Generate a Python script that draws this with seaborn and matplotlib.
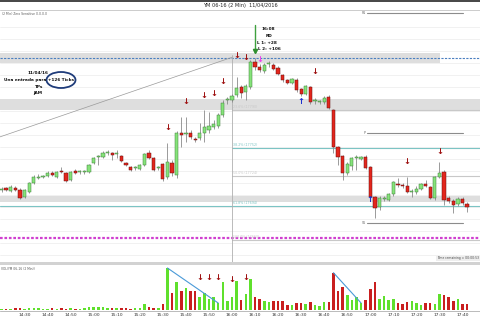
import numpy as np
import pandas as pd
import matplotlib
matplotlib.use("Agg")
import matplotlib.pyplot as plt
import seaborn as sns
from matplotlib.patches import Ellipse, Rectangle

# ---------------- data ----------------
opens = [17710, 17712, 17709, 17712, 17710, 17703, 17708, 17717, 17722, 17723,
         17724, 17727, 17723, 17729, 17727, 17720, 17729, 17728, 17728, 17728,
         17737, 17743, 17743, 17747, 17747, 17746, 17744, 17737, 17733, 17732,
         17731, 17735, 17747, 17742, 17732, 17736, 17723, 17737, 17725, 17767,
         17766, 17767, 17761, 17762, 17767, 17770, 17773, 17774, 17785, 17800,
         17800, 17805, 17813, 17808, 17813, 17838, 17833, 17829, 17836, 17835,
         17832, 17825, 17820, 17817, 17820, 17811, 17806, 17813, 17799, 17798,
         17798, 17803, 17790, 17753, 17744, 17727, 17734, 17742, 17741, 17743,
         17733, 17703, 17693, 17701, 17700, 17706, 17716, 17715, 17714, 17708,
         17708, 17711, 17716, 17713, 17702, 17723, 17728, 17702, 17699, 17696,
         17701, 17696]
closes = [17711, 17710, 17713, 17710, 17702, 17710, 17717, 17723, 17723, 17723,
          17727, 17725, 17728, 17728, 17719, 17728, 17727, 17728, 17728, 17735,
          17742, 17743, 17747, 17747, 17745, 17746, 17739, 17735, 17730, 17732,
          17735, 17746, 17742, 17730, 17732, 17721, 17738, 17727, 17767, 17765,
          17766, 17763, 17760, 17767, 17773, 17774, 17776, 17785, 17797, 17800,
          17804, 17812, 17807, 17814, 17838, 17833, 17830, 17835, 17836, 17831,
          17826, 17820, 17817, 17821, 17810, 17806, 17814, 17798, 17799, 17798,
          17802, 17792, 17753, 17743, 17727, 17736, 17742, 17742, 17743, 17732,
          17703, 17692, 17702, 17702, 17706, 17718, 17715, 17714, 17708, 17708,
          17711, 17716, 17714, 17702, 17723, 17727, 17700, 17699, 17695, 17701,
          17697, 17693]
highs = [17713, 17713, 17715, 17714, 17712, 17711, 17718, 17725, 17726, 17725,
         17729, 17729, 17729, 17733, 17728, 17729, 17731, 17730, 17730, 17736,
         17743, 17745, 17749, 17750, 17748, 17750, 17745, 17738, 17734, 17734,
         17736, 17747, 17750, 17743, 17734, 17737, 17757, 17740, 17769, 17783,
         17783, 17770, 17763, 17777, 17790, 17788, 17780, 17787, 17800, 17803,
         17806, 17823, 17815, 17816, 17840, 17842, 17836, 17837, 17839, 17837,
         17834, 17826, 17821, 17822, 17822, 17812, 17815, 17814, 17802, 17800,
         17804, 17805, 17791, 17754, 17745, 17738, 17743, 17745, 17744, 17745,
         17734, 17704, 17704, 17704, 17707, 17719, 17722, 17717, 17723, 17711,
         17714, 17717, 17720, 17714, 17724, 17738, 17730, 17704, 17701, 17703,
         17703, 17698]
lows = [17708, 17709, 17708, 17709, 17701, 17702, 17707, 17716, 17721, 17722,
        17723, 17724, 17722, 17727, 17718, 17719, 17726, 17726, 17726, 17727,
        17736, 17735, 17742, 17745, 17740, 17742, 17738, 17734, 17729, 17730,
        17730, 17734, 17741, 17729, 17730, 17719, 17721, 17724, 17722, 17753,
        17758, 17761, 17758, 17760, 17758, 17767, 17771, 17772, 17783, 17796,
        17798, 17803, 17802, 17800, 17811, 17830, 17828, 17827, 17833, 17830,
        17825, 17818, 17816, 17816, 17808, 17804, 17805, 17796, 17796, 17796,
        17796, 17791, 17747, 17735, 17720, 17725, 17730, 17730, 17740, 17731,
        17701, 17682, 17690, 17699, 17699, 17704, 17713, 17712, 17707, 17703,
        17706, 17710, 17713, 17701, 17700, 17722, 17695, 17697, 17687, 17694,
        17695, 17688]
volumes = [100, 100, 130, 170, 170, 130, 170, 170, 230, 130,
           130, 170, 130, 170, 130, 170, 100, 130, 170, 270,
           330, 330, 300, 170, 230, 170, 170, 170, 130, 170,
           170, 600, 270, 170, 170, 600, 4200, 1700, 2800, 1900,
           2170, 1900, 1900, 1330, 1670, 1070, 1330, 730, 2830, 900,
           1270, 2900, 1000, 1600, 3100, 1270, 1070, 900, 800, 930,
           930, 900, 500, 500, 670, 670, 600, 830, 470, 400,
           800, 800, 3730, 1930, 2270, 1500, 1000, 1270, 730, 1000,
           2070, 2830, 1070, 1400, 970, 1070, 670, 600, 800, 900,
           670, 470, 670, 670, 600, 1600, 1530, 1330, 930, 1130,
           600, 600]
time_tick_idx = [5, 10, 15, 20, 25, 30, 35, 40, 45, 50, 55, 60, 65, 70, 75, 80, 85, 90, 95, 100]
time_labels = ["14:30", "14:40", "14:50", "15:00", "15:10", "15:20", "15:30", "15:40",
               "15:50", "16:00", "16:10", "16:20", "16:30", "16:40", "16:50", "17:00",
               "17:10", "17:20", "17:30", "17:40"]

# drawn levels / zones / annotations (price units)
zones = [(17837, 17847, 95.1), (17790, 17801, 104), (17698, 17704, 104)]
dashed_blue_level = 17842
magenta_level = 17662
fib_levels = [17790, 17752, 17724, 17694, 17660]
fib_names = ["23.6% (17790)", "38.2% (17752)", "50.0% (17724)", "61.8% (17694)", "100.0% (17660)"]
fib_colors = ["#c8c8c8", "#7cc4c4", "#c8c8c8", "#7cc4c4", "#c8c8c8"]
pivot_levels = [17887, 17767, 17677]
pivot_names = ["R1", "P", "S1"]
trend_x = [-0.4, 50.2]
trend_y = [17763, 17843]
cursor_idx = 50
down_arrow_idx = [36, 40, 44, 46, 48, 51, 53, 68, 88, 95]
down_arrow_price = [17772, 17798, 17805, 17807, 17819, 17844, 17843, 17828, 17738, 17748]
up_arrow_idx = [65, 80]
up_arrow_price = [17798, 17700]
magenta_arrow = (56, 17841)
vol_arrow_idx = [43, 45, 47, 50, 53]
vol_arrow_val = [3300, 3300, 3300, 3000, 3200]
vol_trend1 = ([36, 47], [4200, 700])
vol_trend2 = ([72, 78], [3730, 700])

# ---------------- style ----------------
sns.set_theme(style="white")
plt.rcParams['font.family'] = ['DejaVu Sans']

GREEN = "#86e37a"
GREEN_EDGE = "#3f7f3a"
RED = "#e3261c"
RED_EDGE = "#6a1010"
VGREEN = "#5fe02c"
VRED = "#c91f1f"

n = len(opens)
idx = np.arange(n)
o = np.array(opens, float); c = np.array(closes, float)
h = np.array(highs, float); l = np.array(lows, float)
up = c >= o

def px2i(x):
    return (x - 1.5) / 4.61

XMIN, XMAX = px2i(0), px2i(480)

fig = plt.figure(figsize=(4.8, 3.2), dpi=100)
fig.patch.set_facecolor("white")
ax = fig.add_axes([0, 58 / 320, 1, 252 / 320])
axv = fig.add_axes([0, 9 / 320, 1, 47 / 320])
ov = fig.add_axes([0, 0, 1, 1])
ov.set_xlim(0, 480); ov.set_ylim(320, 0); ov.axis("off"); ov.patch.set_alpha(0)
ov.set_zorder(10)

# ---- price panel ----
ax.set_facecolor("white")
ax.set_xlim(XMIN, XMAX)
ax.set_ylim(17638, 17890)
for s in ax.spines.values():
    s.set_visible(False)
ax.set_xticks([]); ax.set_yticks([])
for g in np.arange(17645, 17880, 12):
    ax.axhline(g, color="#ececec", lw=0.5, zorder=0)

for lo, hi, xe in zones:
    ax.fill_between([XMIN, xe], lo, hi, color="#dedede", lw=0, zorder=0.5)
ax.axhline(dashed_blue_level, color="#4a7fc0", lw=0.8, ls=(0, (2, 1.2)), zorder=1)
ax.axhline(magenta_level, color="#d040d0", lw=1.6, ls=(0, (1.2, 0.8)), zorder=1)

for lev, name, col in zip(fib_levels, fib_names, fib_colors):
    x0 = XMIN if col == "#7cc4c4" and lev == 17694 else cursor_idx
    ax.plot([x0, XMAX], [lev, lev], color=col, lw=0.8, zorder=1)
    ax.text(cursor_idx + 0.2, lev + 1.0, name, fontsize=2.3, color=col, va="bottom", ha="left", zorder=2)
for lev, name in zip(pivot_levels, pivot_names):
    ax.plot([px2i(367), px2i(463)], [lev, lev], color="#8c8c8c", lw=0.8, zorder=1)
    ax.text(px2i(367) - 0.2, lev, name, fontsize=2.3, color="#666", va="center", ha="right", zorder=2)

ax.plot(trend_x, trend_y, color="#9a9a9a", lw=0.5, zorder=1)
ax.plot([cursor_idx, cursor_idx], [17638, 17845], color="#b0b0b0", lw=0.6, zorder=1)

# candles
ax.vlines(idx, l, h, color="#8a8a8a", lw=0.6, zorder=3)
body_lo = np.minimum(o, c)
body_h = np.maximum(np.abs(c - o), 0.9)
ax.bar(idx[up], body_h[up], bottom=body_lo[up], width=0.7, color=GREEN,
       edgecolor=GREEN_EDGE, linewidth=0.35, zorder=4)
ax.bar(idx[~up], body_h[~up], bottom=body_lo[~up], width=0.7, color=RED,
       edgecolor=RED_EDGE, linewidth=0.35, zorder=4)

# arrows
for xi, yp in zip(down_arrow_idx, down_arrow_price):
    ax.text(xi, yp, "\u2193", color="#9e1010", fontsize=6, fontweight="bold",
            ha="center", va="center", zorder=6)
for xi, yp in zip(up_arrow_idx, up_arrow_price):
    ax.text(xi, yp, "\u2191", color="#1a2fd0", fontsize=6, fontweight="bold",
            ha="center", va="center", zorder=6)
ax.text(magenta_arrow[0], magenta_arrow[1], "\u2193", color="#f040f0", fontsize=6,
        fontweight="bold", ha="center", va="center", zorder=6)

# green entry marker line
ax.plot([55, 55], [17848, 17875], color="#3fa03f", lw=1.0, zorder=5)
ax.plot([55], [17849], marker="v", color="#2f8f2f", ms=3, zorder=6)

# ---- volume panel ----
dfv = pd.DataFrame({"idx": idx, "vol": volumes, "dir": np.where(up, "up", "down")})
sns.barplot(data=dfv, x="idx", y="vol", hue="dir", palette={"up": VGREEN, "down": VRED},
            dodge=False, native_scale=True, width=0.55, saturation=1, legend=False,
            linewidth=0, ax=axv)
axv.set_xlim(XMIN, XMAX)
axv.set_ylim(-100, 4600)
for s in axv.spines.values():
    s.set_visible(False)
axv.spines["bottom"].set_visible(True)
axv.spines["bottom"].set_color("#a0a0a0")
axv.spines["bottom"].set_linewidth(0.5)
axv.set_yticks([])
axv.set_xticks(time_tick_idx)
axv.set_xticklabels(time_labels, fontsize=3.2, color="#333333")
axv.tick_params(axis="x", length=0, pad=1.5)
axv.set_xlabel(""); axv.set_ylabel("")
axv.plot(vol_trend1[0], vol_trend1[1], color="#4a9ad8", lw=0.8, zorder=5)
axv.plot(vol_trend2[0], vol_trend2[1], color="#4a9ad8", lw=0.8, zorder=5)
for xi, v in zip(vol_arrow_idx, vol_arrow_val):
    axv.text(xi, v, "\u2193", color="#9e1010", fontsize=6, fontweight="bold",
             ha="center", va="center", zorder=6)

# ---- frame / text overlay (pixel positions) ----
ov.add_patch(Rectangle((0, 0), 480, 1.8, color="#4a4a4a", lw=0))
ov.plot([0, 480], [10, 10], color="#c4c4c4", lw=0.6)
ov.add_patch(Rectangle((0, 262), 480, 2.6, color="#d2d2d2", lw=0))
ov.text(240, 6, "YM 06-16 (2 Min)  11/04/2016", fontsize=3.6, ha="center", va="center", color="#222")
ov.text(2, 14, "(2 Min) Zero Sensitive 0.0.0.0", fontsize=2.2, ha="left", va="center", color="#555")
ov.text(1, 269.5, "VOL(YM 06-16 (2 Min))", fontsize=2.2, ha="left", va="center", color="#555")
ov.text(479, 258.5, "Time remaining = 00:00:53", fontsize=2.2, ha="right", va="center", color="#444",
        bbox=dict(boxstyle="square,pad=0.2", fc="#eeeeee", ec="none"))

bold = dict(fontsize=3.1, fontweight="bold", ha="center", va="center", color="#111")
ov.text(38, 72.5, "11/04/16", **bold)
ov.text(39, 80, "Una entrada para +126 Ticks", **bold)
ov.text(38, 86.5, "TPs", **bold)
ov.text(38, 93, "JAM", **bold)
ov.add_patch(Ellipse((61, 80), 29, 16, fill=False, ec="#1f3c7a", lw=1.3))

ov.text(268, 29, "16:08", **bold)
ov.text(269, 36, "RD", **bold)
ov.text(267, 43, "L 1: +28", **bold)
ov.text(269, 49.5, "L 2: +106", **bold)

fig.savefig("out.png", dpi=100, facecolor="white")
